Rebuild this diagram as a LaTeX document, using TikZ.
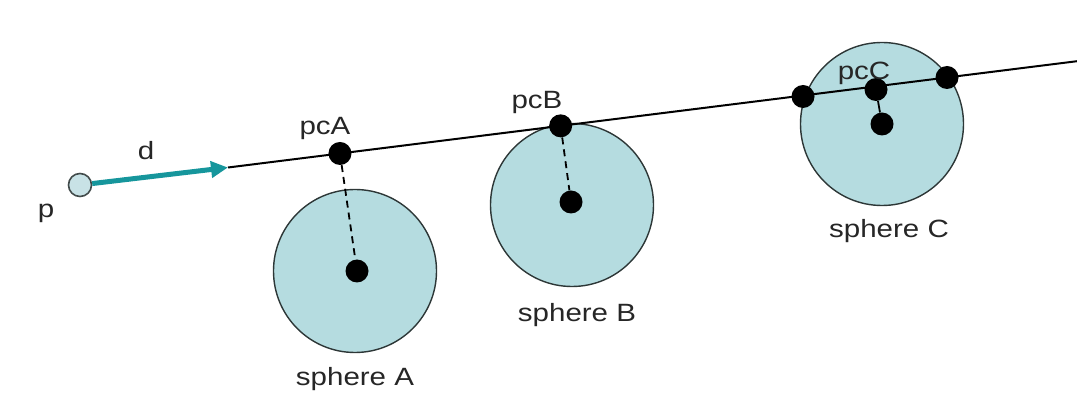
\documentclass[tikz,border=0pt]{standalone}
\usepackage{fontspec}
\setmainfont{Liberation Sans}
\usepackage{graphicx}
\usetikzlibrary{arrows.meta,calc}
\definecolor{sphfill}{RGB}{181,220,224}
\definecolor{pfill}{RGB}{200,226,230}
\definecolor{teal1}{RGB}{22,150,156}
\definecolor{outl}{RGB}{45,55,55}
\newcommand\wlbl[1]{\scalebox{1.18}[1]{#1}}
\begin{document}
\begin{tikzpicture}[x=1pt,y=-1pt,
  sph/.style={circle,draw=outl,line width=1.4pt,fill=sphfill,minimum size=163pt,inner sep=0pt},
  dotc/.style={circle,fill=black,minimum size=23pt,inner sep=0pt},
  lbl/.style={font=\fontsize{25}{28}\selectfont,text=black!85,anchor=base,inner sep=0pt},
  rayline/.style={line width=2pt,black},
  perp/.style={line width=1.8pt,dash pattern=on 7pt off 5pt}]
\useasboundingbox (0,0) rectangle (1077,395);
% spheres
\node[sph] (sA) at (355,271) {};
\node[sph] (sB) at (572,205) {};
\node[sph] (sC) at (882,124) {};
% ray
\coordinate (r0) at (228,167.5);
\coordinate (r1) at (1077,61.2);
\draw[rayline] (r0) -- (r1);
% points on ray
\node[dotc] (pcA) at ($(r0)!0.1319!(r1)$) {};
\node[dotc] (pcB) at ($(r0)!0.3918!(r1)$) {};
\node[dotc] (cL) at (803,96.5) {};
\node[dotc] (pcC) at (876,89.5) {};
\node[dotc] (cR) at (947,77.5) {};
% centres
\node[dotc] (cA) at (357,271) {};
\node[dotc] (cB) at (571,202) {};
\node[dotc] (cC) at (882,124) {};
% perpendiculars
\draw[perp] (pcA) -- (cA);
\draw[perp] (pcB) -- (cB);
\draw[line width=1.8pt] (pcC) -- (cC);
% origin and direction
\node[circle,draw=outl!90,line width=1.6pt,fill=pfill,minimum size=23pt,inner sep=0pt] (p) at (80,185) {};
\draw[teal1,line width=5pt,-{Triangle[length=17pt,width=16pt]}] (p) -- (r0);
% labels
\node[lbl] (lp) at (46,218) {\wlbl{p}};
\node[lbl] (ld) at (146,160) {\wlbl{d}};
\node[lbl] (lpcA) at (325,135) {\wlbl{pcA}};
\node[lbl] (lpcB) at (537,109) {\wlbl{pcB}};
\node[lbl] (lpcC) at (864,80) {\wlbl{pcC}};
\node[lbl] (lsA) at (355,386) {\wlbl{sphere A}};
\node[lbl] (lsB) at (577,322) {\wlbl{sphere B}};
\node[lbl] (lsC) at (889,238) {\wlbl{sphere C}};
\end{tikzpicture}
\end{document}
